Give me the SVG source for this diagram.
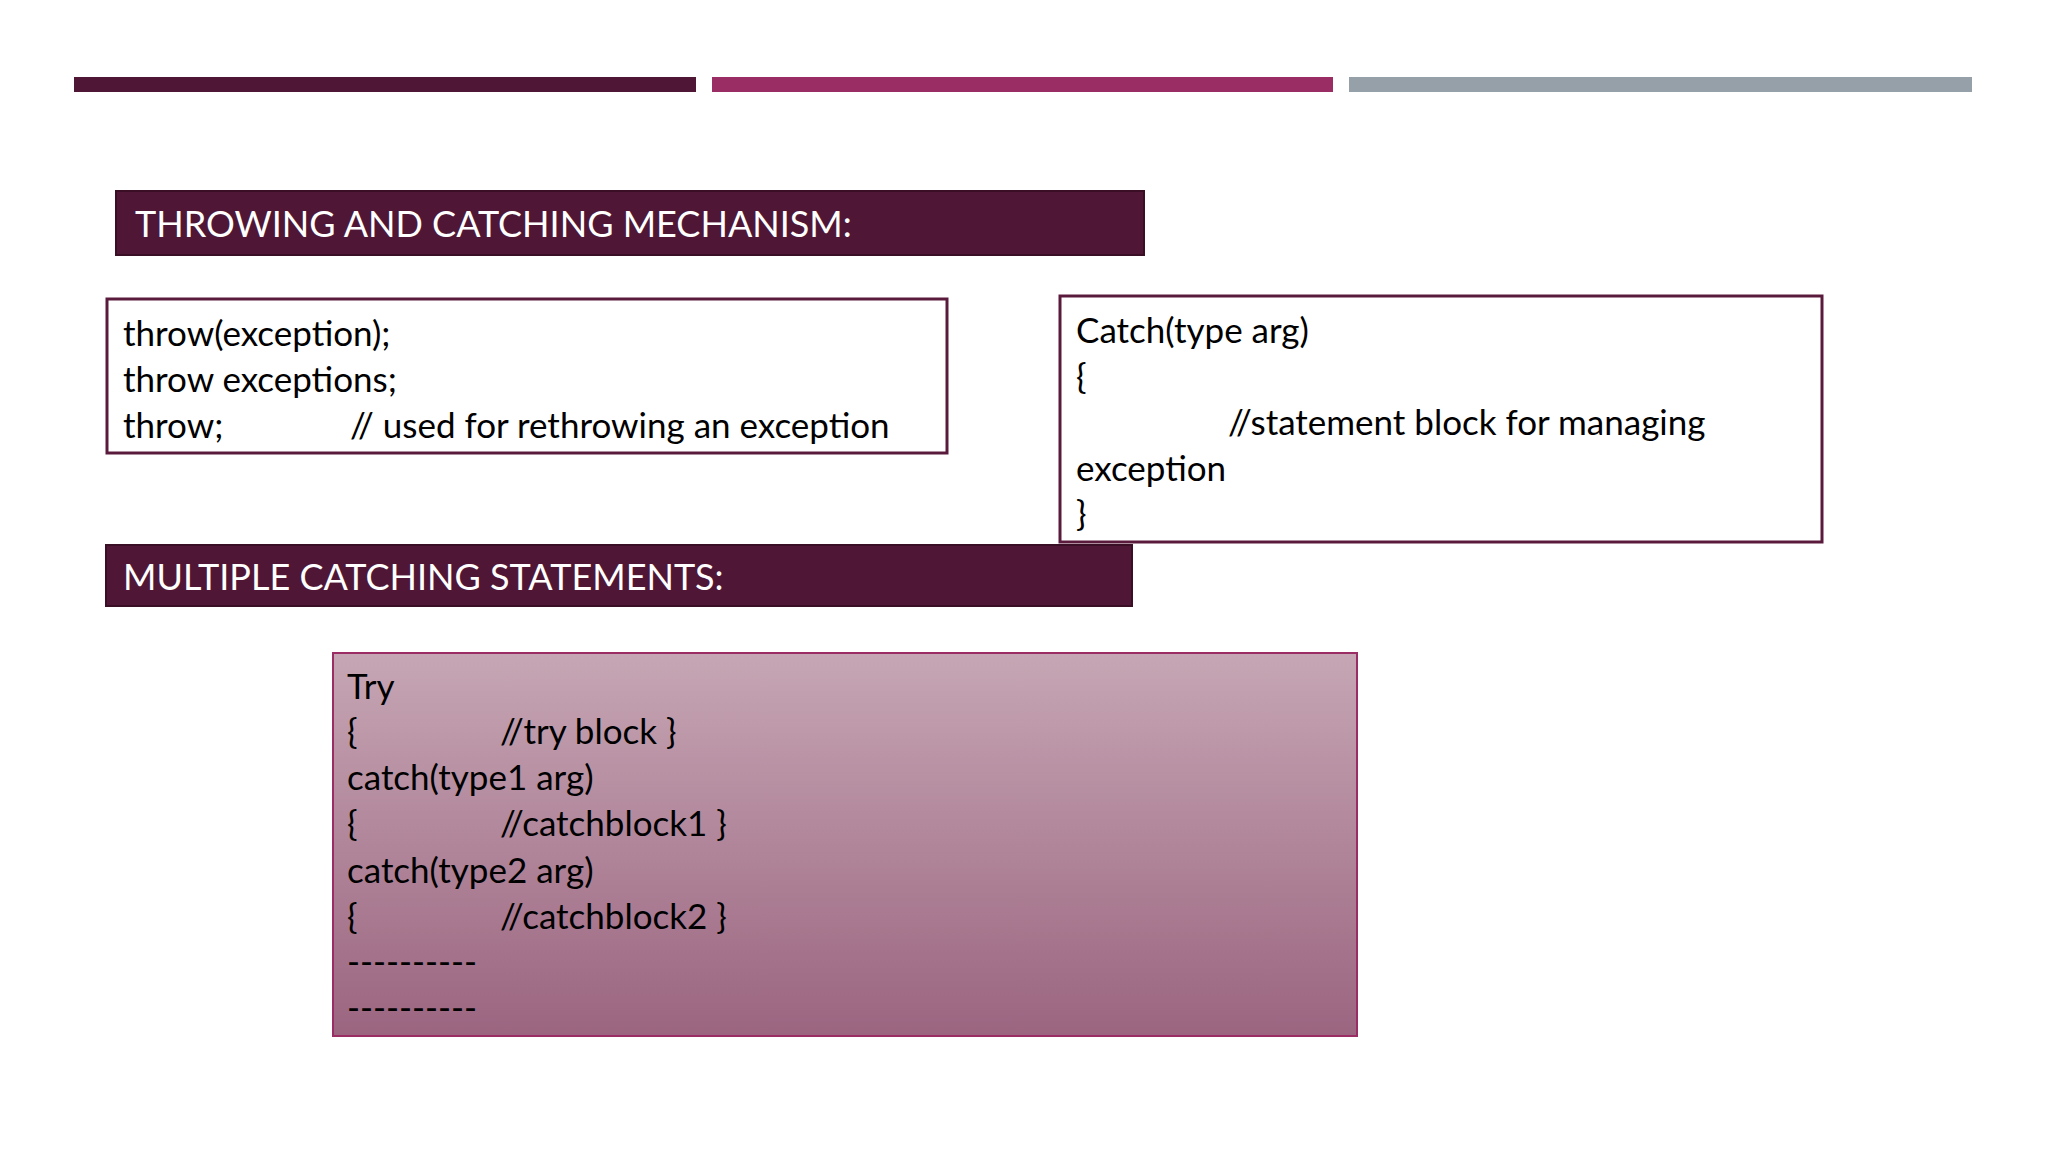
<svg xmlns="http://www.w3.org/2000/svg" width="2048" height="1152" viewBox="0 0 2048 1152">
<defs>
<linearGradient id="g" x1="0" y1="0" x2="0" y2="1"><stop offset="0" stop-color="#c6a6b4"/><stop offset="1" stop-color="#9b6580"/></linearGradient>
<style>
text{font-family:Lato,"Open Sans",sans-serif;font-size:35px;fill:#000}
.h{fill:#fff;font-size:36px}
.hb{fill:#4f1735;stroke:#3a0f26;stroke-width:2}
.box{fill:#fff;stroke:#5a1a3c;stroke-width:3}
</style>
</defs>
<rect x="0" y="0" width="2048" height="1152" fill="#fff"/>
<g id="bars">
<rect x="74" y="77" width="622" height="15" fill="#4f1735"/>
<rect x="712" y="77" width="621" height="15" fill="#9b2d65"/>
<rect x="1349" y="77" width="623" height="15" fill="#95a0a8"/>
</g>
<g id="header1"><rect class="hb" x="116" y="191" width="1028" height="64"/><text class="h" x="135" y="237">THROWING AND CATCHING MECHANISM:</text></g>
<g id="box1"><rect class="box" x="107" y="299" width="840" height="154"/>
<text x="123" y="346">throw(exception);</text>
<text x="123" y="392">throw exceptions;</text>
<text x="123" y="438">throw;</text><text x="350" y="438">// used for rethrowing an exception</text></g>
<g id="box2"><rect class="box" x="1060" y="296" width="762" height="246"/>
<text x="1076" y="343">Catch(type arg)</text>
<text x="1076" y="389">{</text>
<text x="1228" y="435">//statement block for managing</text>
<text x="1076" y="481">exception</text>
<text x="1076" y="526">}</text></g>
<g id="header2"><rect class="hb" x="106" y="545" width="1026" height="61"/><text class="h" x="123" y="590">MULTIPLE CATCHING STATEMENTS:</text></g>
<g id="box3"><rect x="333" y="653" width="1024" height="383" fill="url(#g)" stroke="#9b2d65" stroke-width="2"/>
<text x="347" y="699">Try</text>
<text x="347" y="744">{</text><text x="500" y="744">//try block }</text>
<text x="347" y="790">catch(type1 arg)</text>
<text x="347" y="836">{</text><text x="500" y="836">//catchblock1 }</text>
<text x="347" y="883">catch(type2 arg)</text>
<text x="347" y="929">{</text><text x="500" y="929">//catchblock2 }</text>
<text x="347" y="974">----------</text>
<text x="347" y="1020">----------</text></g>
<g id="connectors"/>
</svg>
